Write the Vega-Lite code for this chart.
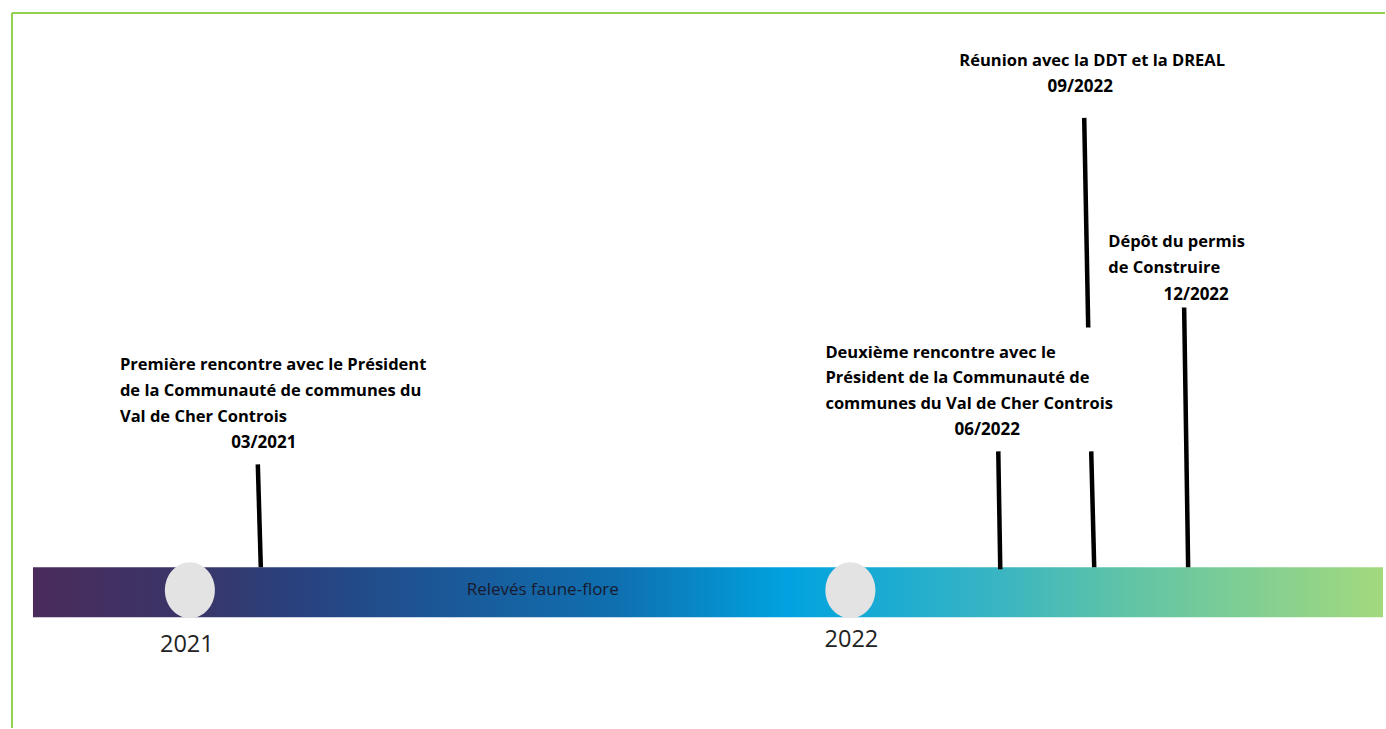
{
  "$schema": "https://vega.github.io/schema/vega-lite/v6.json",
  "width": 1386,
  "height": 729,
  "autosize": {"type": "fit", "contains": "padding"},
  "padding": 0,
  "background": "white",
  "config": {"view": {"stroke": null}},
  "datasets": {
    "band": [{"x": 33, "x2": 1384, "y": 568, "y2": 618}],
    "years": [{"label": "2021", "x": 190, "y": 591, "lx": 187, "ly": 646}, {"label": "2022", "x": 851, "y": 591, "lx": 852, "ly": 641}],
    "stems": [
      {"event": "03/2021", "x": 258, "y": 465, "x2": 261, "y2": 568},
      {"event": "06/2022", "x": 999, "y": 452, "x2": 1001, "y2": 570},
      {"event": "09/2022 a", "x": 1085, "y": 118, "x2": 1089, "y2": 328},
      {"event": "09/2022 b", "x": 1092, "y": 452, "x2": 1095, "y2": 568},
      {"event": "12/2022", "x": 1185, "y": 308, "x2": 1189, "y2": 568}
    ],
    "labels": [
      {"text": "Première rencontre avec le Président", "x": 120, "y": 366},
      {"text": "de la Communauté de communes du", "x": 120, "y": 392},
      {"text": "Val de Cher Controis", "x": 120, "y": 418},
      {"text": "Deuxième rencontre avec le", "x": 826, "y": 353},
      {"text": "Président de la Communauté de", "x": 826, "y": 379},
      {"text": "communes du Val de Cher Controis", "x": 826, "y": 405},
      {"text": "Réunion avec la DDT et la DREAL", "x": 960, "y": 61},
      {"text": "Dépôt du permis", "x": 1109, "y": 242},
      {"text": "de Construire", "x": 1109, "y": 268}
    ],
    "dates": [
      {"text": "03/2021", "x": 264, "y": 444},
      {"text": "06/2022", "x": 988, "y": 431},
      {"text": "09/2022", "x": 1081, "y": 87},
      {"text": "12/2022", "x": 1197, "y": 295}
    ],
    "period": [{"text": "Relevés faune-flore", "x": 467, "y": 591}],
    "frame": [
      {"side": "top", "x": 12, "y": 13, "x2": 1386, "y2": 13},
      {"side": "left", "x": 12, "y": 13, "x2": 12, "y2": 729}
    ]
  },
  "encoding": {
    "x": {"field": "x", "type": "quantitative", "scale": {"domain": [0, 1386], "nice": false, "zero": false}, "axis": null},
    "y": {"field": "y", "type": "quantitative", "scale": {"domain": [0, 729], "nice": false, "zero": false, "reverse": true}, "axis": null}
  },
  "layer": [
    {
      "data": {"name": "frame"},
      "mark": {"type": "rule", "color": "#92d050", "strokeWidth": 2},
      "encoding": {"x2": {"field": "x2"}, "y2": {"field": "y2"}}
    },
    {
      "data": {"name": "band"},
      "mark": {
        "type": "rect",
        "fill": {
          "gradient": "linear",
          "x1": 0, "y1": 0, "x2": 1, "y2": 0,
          "stops": [
            {"offset": 0, "color": "#4a2b5c"},
            {"offset": 0.116, "color": "#3a3568"},
            {"offset": 0.2, "color": "#28427f"},
            {"offset": 0.316, "color": "#1a5a9a"},
            {"offset": 0.434, "color": "#0f70b0"},
            {"offset": 0.56, "color": "#00a3e0"},
            {"offset": 0.716, "color": "#3ab5c2"},
            {"offset": 0.81, "color": "#60c4a6"},
            {"offset": 1, "color": "#a3d97e"}
          ]
        }
      },
      "encoding": {"x2": {"field": "x2"}, "y2": {"field": "y2"}}
    },
    {
      "data": {"name": "years"},
      "mark": {"type": "point", "filled": true, "fill": "#e3e3e3", "opacity": 1, "strokeWidth": 0, "size": 3136, "shape": "M -0.893 0 A 0.893 1 0 1 0 0.893 0 A 0.893 1 0 1 0 -0.893 0 Z"}
    },
    {
      "data": {"name": "years"},
      "mark": {"type": "text", "font": "Open Sans", "fontSize": 23.5, "color": "#222222", "align": "center", "baseline": "middle"},
      "encoding": {
        "x": {"field": "lx", "type": "quantitative"},
        "y": {"field": "ly", "type": "quantitative"},
        "text": {"field": "label"}
      }
    },
    {
      "data": {"name": "period"},
      "mark": {"type": "text", "font": "Open Sans", "fontSize": 17, "color": "#1a1a2e", "align": "left", "baseline": "middle"},
      "encoding": {"text": {"field": "text"}}
    },
    {
      "data": {"name": "stems"},
      "mark": {"type": "rule", "color": "black", "strokeWidth": 4.5},
      "encoding": {"x2": {"field": "x2"}, "y2": {"field": "y2"}}
    },
    {
      "data": {"name": "labels"},
      "mark": {"type": "text", "font": "Open Sans", "fontSize": 16.5, "fontWeight": "bold", "color": "black", "align": "left", "baseline": "middle"},
      "encoding": {"text": {"field": "text"}}
    },
    {
      "data": {"name": "dates"},
      "mark": {"type": "text", "font": "Open Sans", "fontSize": 17, "fontWeight": "bold", "color": "black", "align": "center", "baseline": "middle"},
      "encoding": {"text": {"field": "text"}}
    }
  ]
}
